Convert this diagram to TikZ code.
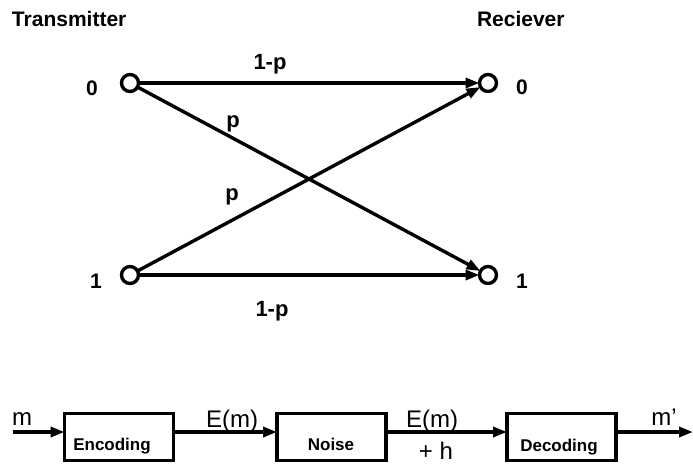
\documentclass[tikz,border=0pt]{standalone}
\usepackage{fontspec}
\setmainfont{Liberation Sans}
\usetikzlibrary{arrows.meta}
\begin{document}
\begin{tikzpicture}[x=1pt,y=-1pt,
  every node/.style={inner sep=0pt,outer sep=0pt},
  stn/.style={circle,draw,line width=3.4pt,minimum size=17pt},
  conn/.style={line width=3.4pt},
  arr/.style={conn,-{Triangle[length=14pt,width=10pt]}},
  ttl/.style={font=\bfseries\fontsize{21}{25}\selectfont,anchor=base west},
  sym/.style={font=\bfseries\fontsize{21}{25}\selectfont,anchor=base},
  prob/.style={font=\bfseries\fontsize{22}{26}\selectfont,anchor=base},
  sig/.style={font=\fontsize{24}{28}\selectfont,anchor=base},
  blk/.style={draw,line width=3.4pt,minimum width=109pt,minimum height=47pt},
  blktext/.style={font=\bfseries\fontsize{17}{21}\selectfont,anchor=base}
]
\useasboundingbox (0,0) rectangle (693,464);

% titles
\node[ttl] (tx) at (12,26) {Transmitter};
\node[ttl] (rx) at (477,26) {Reciever};

% stations
\node[stn] (l0) at (130,83) {};
\node[stn] (l1) at (130,275) {};
\node[stn] (r0) at (488,83) {};
\node[stn] (r1) at (488,275) {};

\node[sym] (l0t) at (92,95) {0};
\node[sym] (l1t) at (96,288) {1};
\node[sym] (r0t) at (522,94) {0};
\node[sym] (r1t) at (522,288) {1};

% channel
\draw[arr] (l0) -- (r0);
\draw[arr] (l1) -- (r1);
\draw[arr] (l0) -- (r1);
\draw[arr] (l1) -- (r0);

\node[prob] (p00) at (270,69) {1-p};
\node[prob] (p01) at (233,127) {p};
\node[prob] (p10) at (232,200) {p};
\node[prob] (p11) at (272,316) {1-p};

% block diagram
\node[blk] (enc) at (119,437) {};
\node[blk] (noi) at (331.5,437) {};
\node[blk] (dec) at (561.5,437) {};
\node[blktext] (enct) at (112,450) {Encoding};
\node[blktext] (noit) at (331,450) {Noise};
\node[blktext] (dect) at (559,451) {Decoding};

\coordinate (min) at (13,432);
\coordinate (mout) at (693,432);
\draw[arr] (min) -- (min -| enc.west);
\draw[arr] (min -| enc.east) -- (min -| noi.west);
\draw[arr] (min -| noi.east) -- (min -| dec.west);
\draw[arr] (min -| dec.east) -- (mout);

\node[sig] (mt) at (22,425) {m};
\node[sig] (e1) at (232,427) {E(m)};
\node[sig] (e2) at (432,427) {E(m)};
\node[sig] (h) at (436,459) {+ h};
\node[sig] (mp) at (664,425) {m’};
\end{tikzpicture}
\end{document}
